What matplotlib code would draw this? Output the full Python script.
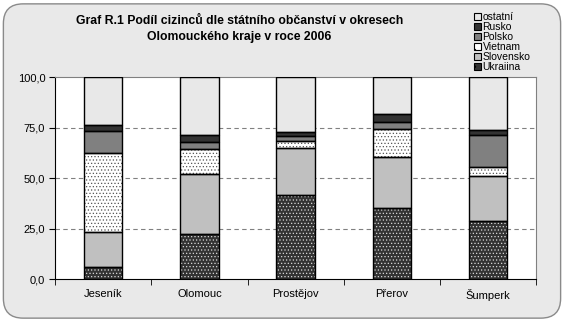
import matplotlib
matplotlib.use("Agg")
import matplotlib.pyplot as plt
from matplotlib.patches import FancyBboxPatch, Patch
import numpy as np

plt.rcParams['font.family'] = ['Liberation Sans', 'DejaVu Sans']
plt.rcParams['hatch.linewidth'] = 0.5

okresy = ["Jeseník", "Olomouc", "Prostějov", "Přerov", "Šumperk"]
ukrajina = [5.9, 22.4, 41.7, 35.1, 28.7]
slovensko = [17.4, 29.6, 23.2, 25.3, 22.3]
vietnam = [39.1, 12.4, 3.4, 13.9, 4.4]
polsko = [10.9, 3.4, 2.6, 3.4, 15.9]
rusko = [2.9, 3.5, 2.0, 4.1, 2.5]
ostatni = [23.8, 28.7, 27.1, 18.2, 26.2]
yticks = [0, 25, 50, 75, 100]
ytick_labels = ["0,0", "25,0", "50,0", "75,0", "100,0"]

series = [
    ("Ukraiina", ukrajina, "#333333", "#d8d8d8", "....."),
    ("Slovensko", slovensko, "#c0c0c0", None, None),
    ("Vietnam", vietnam, "white", "#555555", "....."),
    ("Polsko", polsko, "#808080", None, None),
    ("Rusko", rusko, "#333333", None, None),
    ("ostatní", ostatni, "#e8e8e8", None, None),
]

fig = plt.figure(figsize=(5.64, 3.22), dpi=100)
fig.patch.set_facecolor("white")
frame = FancyBboxPatch((0.006, 0.012), 0.988, 0.976,
                       boxstyle="round,pad=0,rounding_size=0.035",
                       transform=fig.transFigure, facecolor="#e9e9e9",
                       edgecolor="#8a8a8a", linewidth=1.0, zorder=-5,
                       mutation_aspect=564 / 322)
fig.patches.append(frame)

ax = fig.add_axes([0.0975, 0.1326, 0.8535, 0.6274])
ax.set_zorder(1)
ax.set_facecolor("white")
x = np.arange(len(okresy))
width = 0.4
bottom = np.zeros(len(okresy))
handles = []
for name, vals, face, hcol, hatch in series:
    vals = np.array(vals)
    if hatch:
        ax.bar(x, vals, width, bottom=bottom, color=face, edgecolor=hcol,
               hatch=hatch, linewidth=0, zorder=2)
    else:
        ax.bar(x, vals, width, bottom=bottom, color=face, linewidth=0, zorder=2)
    ax.bar(x, vals, width, bottom=bottom, fill=False, edgecolor="black",
           linewidth=1.0, zorder=3)
    bottom += vals
    handles.append(Patch(facecolor=face, edgecolor="black", linewidth=0.8,
                         hatch=hatch[:2] if hatch else None))

ax.set_xlim(-0.5, len(okresy) - 0.5)
ax.set_ylim(0, 100)
ax.set_yticks(yticks)
ax.set_yticklabels(ytick_labels, fontsize=8)
ax.set_xticks(x)
ax.set_xticklabels(okresy, fontsize=8)
ax.tick_params(axis="x", length=0, pad=7)
ax.set_xticks(np.arange(-0.5, len(okresy)), minor=True)
ax.tick_params(axis="x", which="minor", length=4, direction="out", color="black")
ax.tick_params(axis="y", length=4, direction="out", pad=3)
for yv in yticks[1:-1]:
    ax.axhline(yv, color="#808080", linestyle=(0, (4, 3)), linewidth=0.8, zorder=1)
for s in ["top", "right"]:
    ax.spines[s].set_color("#808080")
for s in ["left", "bottom"]:
    ax.spines[s].set_color("black")

fig.text(0.424, 0.935, "Graf R.1 Podíl cizinců dle státního občanství v okresech",
         ha="center", va="center", fontsize=8.8, fontweight="bold")
fig.text(0.424, 0.885, "Olomouckého kraje v roce 2006",
         ha="center", va="center", fontsize=8.8, fontweight="bold")

leg = fig.legend(handles[::-1], [s[0] for s in series][::-1],
                 loc="upper left", bbox_to_anchor=(0.828, 0.985),
                 fontsize=7.5, frameon=False, handlelength=0.65,
                 handleheight=0.65, handletextpad=0.15, labelspacing=0.0,
                 borderpad=0.2)

fig.savefig("out.png", dpi=100)
